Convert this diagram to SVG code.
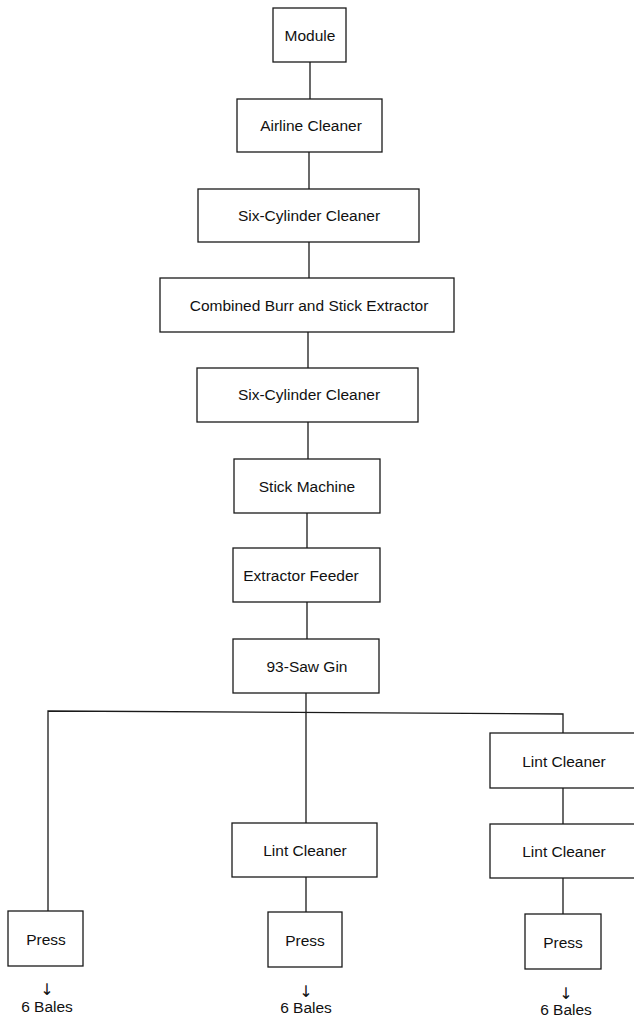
<svg xmlns="http://www.w3.org/2000/svg" width="634" height="1017" viewBox="0 0 634 1017">
<style>
.box{fill:#fff;stroke:#1a1a1a;stroke-width:1.3}
.lbl{font-family:"Liberation Sans",Arial,sans-serif;font-size:15.5px;fill:#111;text-anchor:middle}
.arr{font-family:"DejaVu Sans","Liberation Sans",sans-serif;font-size:16px;fill:#111;text-anchor:middle}
.con{fill:none;stroke:#1a1a1a;stroke-width:1.3}
</style>
<rect width="634" height="1017" fill="#fff"/>
<g id="connectors">
<line class="con" x1="310" y1="62" x2="310" y2="99"/>
<line class="con" x1="309" y1="152" x2="309" y2="189"/>
<line class="con" x1="309" y1="242" x2="309" y2="278"/>
<line class="con" x1="308" y1="332" x2="308" y2="368"/>
<line class="con" x1="308" y1="422" x2="308" y2="459"/>
<line class="con" x1="307" y1="513" x2="307" y2="548"/>
<line class="con" x1="307" y1="602" x2="307" y2="639"/>
<line class="con" x1="306" y1="693" x2="306" y2="823"/>
<polyline class="con" points="48,911 48,711 563,714 563,733"/>
<line class="con" x1="563" y1="788" x2="563" y2="824"/>
<line class="con" x1="563" y1="878" x2="563" y2="914"/>
<line class="con" x1="306" y1="877" x2="306" y2="912"/>
</g>
<g id="module"><rect class="box" x="273" y="8" width="73" height="54"/><text class="lbl" x="310" y="41">Module</text></g>
<g id="airline"><rect class="box" x="237" y="99" width="145" height="53"/><text class="lbl" x="311" y="131">Airline Cleaner</text></g>
<g id="sixcyl1"><rect class="box" x="198" y="189" width="221" height="53"/><text class="lbl" x="309" y="221">Six-Cylinder Cleaner</text></g>
<g id="combined"><rect class="box" x="160" y="278" width="294" height="54"/><text class="lbl" x="309" y="311">Combined Burr and Stick Extractor</text></g>
<g id="sixcyl2"><rect class="box" x="197" y="368" width="221" height="54"/><text class="lbl" x="309" y="400">Six-Cylinder Cleaner</text></g>
<g id="stick"><rect class="box" x="234" y="459" width="146" height="54"/><text class="lbl" x="307" y="492">Stick Machine</text></g>
<g id="feeder"><rect class="box" x="233" y="548" width="147" height="54"/><text class="lbl" x="301" y="581">Extractor Feeder</text></g>
<g id="gin"><rect class="box" x="233" y="639" width="146" height="54"/><text class="lbl" x="307" y="672">93-Saw Gin</text></g>
<g id="lint-mid"><rect class="box" x="232" y="823" width="145" height="54"/><text class="lbl" x="305" y="856">Lint Cleaner</text></g>
<g id="lint-r1"><rect class="box" x="490" y="733" width="150" height="55"/><text class="lbl" x="564" y="767">Lint Cleaner</text></g>
<g id="lint-r2"><rect class="box" x="490" y="824" width="150" height="54"/><text class="lbl" x="564" y="857">Lint Cleaner</text></g>
<g id="press-l"><rect class="box" x="8" y="911" width="75" height="55"/><text class="lbl" x="46" y="945">Press</text></g>
<g id="press-m"><rect class="box" x="268" y="912" width="74" height="55"/><text class="lbl" x="305" y="946">Press</text></g>
<g id="press-r"><rect class="box" x="525" y="914" width="76" height="55"/><text class="lbl" x="563" y="948">Press</text></g>
<g id="out-l"><text class="arr" x="47" y="995">↓</text><text class="lbl" x="47" y="1012">6 Bales</text></g>
<g id="out-m"><text class="arr" x="306" y="997">↓</text><text class="lbl" x="306" y="1013">6 Bales</text></g>
<g id="out-r"><text class="arr" x="566" y="999">↓</text><text class="lbl" x="566" y="1015">6 Bales</text></g>
</svg>
